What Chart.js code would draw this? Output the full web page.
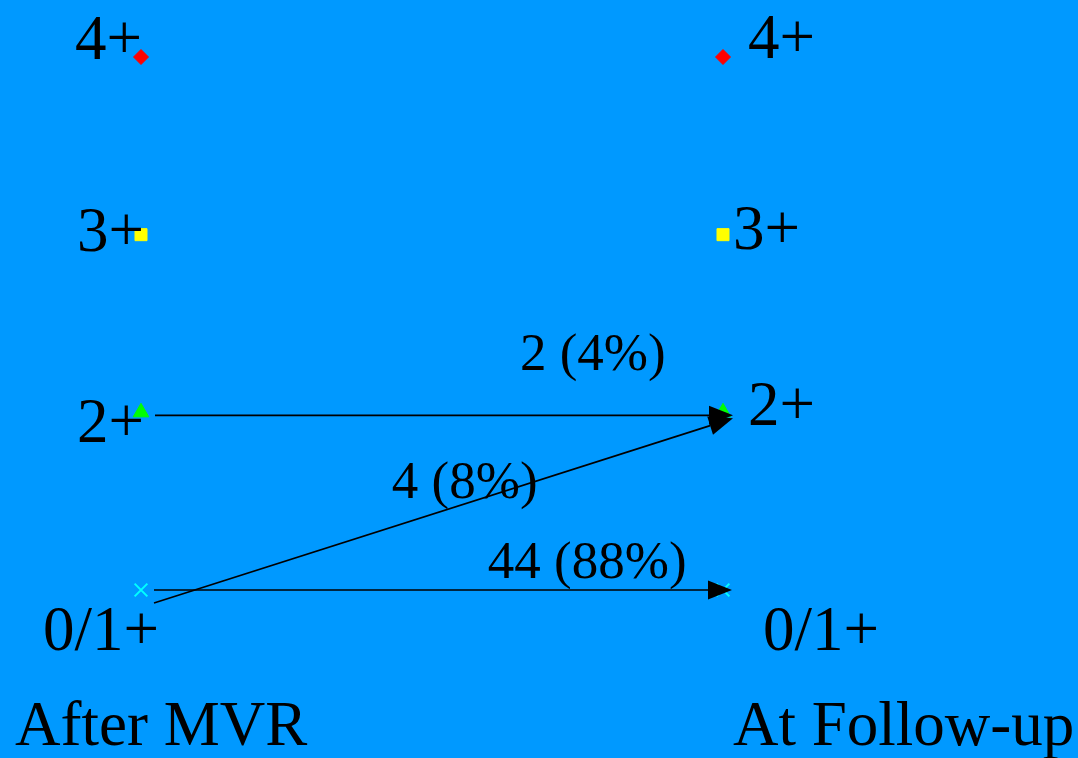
<!DOCTYPE html>
<html>
<head>
<meta charset="utf-8">
<title>MR grade after MVR vs follow-up</title>
<script src="https://cdn.jsdelivr.net/npm/chart.js@4/dist/chart.umd.min.js"></script>
<style>
  html, body { margin: 0; padding: 0; background: #0099ff; }
  canvas { display: block; }
</style>
</head>
<body>
<canvas id="mrChart" width="1078" height="758"></canvas>
<script>
// grades on the y axis (0 = 0/1+, 3 = 4+)
const grades = ['0/1+', '2+', '3+', '4+'];
const columns = ['After MVR', 'At Follow-up'];
const gradeColors = ['#00ffff', '#00ff00', '#ffff00', '#ff0000'];
const gradeShapes = ['crossRot', 'triangle', 'rect', 'rectRot'];

// transitions between grades
const flowFrom = [1, 0, 0];
const flowTo = [1, 1, 0];
const flowCount = [2, 4, 44];
const flowPct = [4, 8, 88];

const FONT = '"Liberation Serif", "Times New Roman", serif';

// label placement tweaks, in pixels from the point
const leftOffsets = [[-98, 60], [-64, 30], [-64, 16], [-66, 2]];
const rightOffsets = [[40, 60], [25, 13], [10, 14], [25, 1]];
// where each flow label sits: [fraction across, y in grade units]
const flowLabelAt = [[0.651, 1.238], [0.431, 0.518], [0.596, 0.068]];
// arrow end nudges: [startDx, startDy, endDx, endDy]
const arrowNudge = [[14, 3, 10, 3], [13, 13, 10, 6], [13, 0, 9, 0]];

const bgPlugin = {
  id: 'bg',
  beforeDraw(chart) {
    const ctx = chart.ctx;
    ctx.save();
    ctx.fillStyle = '#0099ff';
    ctx.fillRect(0, 0, chart.width, chart.height);
    ctx.restore();
  }
};

function arrow(ctx, x1, y1, x2, y2) {
  const a = Math.atan2(y2 - y1, x2 - x1);
  const len = 24, half = 9.5;
  ctx.beginPath();
  ctx.moveTo(x1, y1);
  ctx.lineTo(x2 - Math.cos(a) * len, y2 - Math.sin(a) * len);
  ctx.stroke();
  const bx = x2 - Math.cos(a) * len, by = y2 - Math.sin(a) * len;
  ctx.beginPath();
  ctx.moveTo(x2, y2);
  ctx.lineTo(bx + Math.sin(a) * half, by - Math.cos(a) * half);
  ctx.lineTo(bx - Math.sin(a) * half, by + Math.cos(a) * half);
  ctx.closePath();
  ctx.fill();
}

const flowPlugin = {
  id: 'flows',
  afterDatasetsDraw(chart) {
    const ctx = chart.ctx;
    const xs = chart.scales.x, ys = chart.scales.y;
    ctx.save();
    ctx.strokeStyle = '#000';
    ctx.fillStyle = '#000';
    ctx.lineWidth = 1.6;

    flowFrom.forEach((from, i) => {
      const n = arrowNudge[i];
      arrow(ctx,
        xs.getPixelForValue(0) + n[0], ys.getPixelForValue(from) + n[1],
        xs.getPixelForValue(1) + n[2], ys.getPixelForValue(flowTo[i]) + n[3]);
    });

    ctx.textBaseline = 'alphabetic';
    ctx.textAlign = 'left';

    ctx.font = '53px ' + FONT;
    flowCount.forEach((c, i) => {
      const p = flowLabelAt[i];
      const x = xs.getPixelForValue(0) + p[0] * (xs.getPixelForValue(1) - xs.getPixelForValue(0));
      ctx.fillText(c + ' (' + flowPct[i] + '%)', x, ys.getPixelForValue(p[1]));
    });

    ctx.font = '63px ' + FONT;
    grades.forEach((g, i) => {
      const y = ys.getPixelForValue(i);
      ctx.fillText(g, xs.getPixelForValue(0) + leftOffsets[i][0], y + leftOffsets[i][1]);
      ctx.fillText(g, xs.getPixelForValue(1) + rightOffsets[i][0], y + rightOffsets[i][1]);
    });

    ctx.fillText(columns[0], xs.getPixelForValue(0) - 126, chart.height - 13);
    ctx.fillText(columns[1], xs.getPixelForValue(1) + 10, chart.height - 13);
    ctx.restore();
  }
};

const datasets = grades.map((g, i) => ({
  label: g,
  data: [{ x: 0, y: i }, { x: 1, y: i }],
  pointStyle: gradeShapes[i],
  pointRadius: [9, 9, 8.5, 7.5][i],
  pointBackgroundColor: gradeColors[i],
  pointBorderColor: gradeColors[i],
  pointBorderWidth: i === 0 ? 2 : 1,
  showLine: false,
  clip: false
}));

new Chart(document.getElementById('mrChart').getContext('2d'), {
  type: 'scatter',
  data: { datasets },
  options: {
    responsive: false,
    animation: false,
    devicePixelRatio: 1,
    layout: { padding: { left: 141, right: 355, top: 57, bottom: 168 } },
    plugins: { legend: { display: false }, tooltip: { enabled: false } },
    scales: {
      x: { type: 'linear', min: 0, max: 1, display: false },
      y: { type: 'linear', min: 0, max: 3, display: false }
    }
  },
  plugins: [bgPlugin, flowPlugin]
});
</script>
</body>
</html>
